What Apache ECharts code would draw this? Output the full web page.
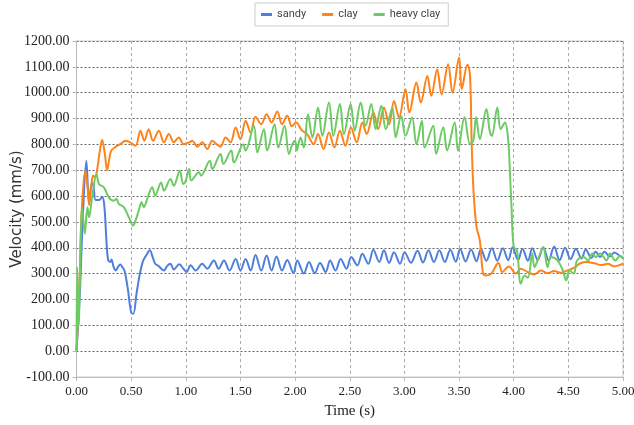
<!DOCTYPE html>
<html>
<head>
<meta charset="utf-8">
<script src="https://cdn.jsdelivr.net/npm/echarts@6/dist/echarts.min.js"></script>
<style>
html,body{margin:0;padding:0;background:#fff;}
#chart{width:634px;height:425px;}
</style>
</head>
<body>
<div id="chart"></div>
<script>
// ---- data: [time (s), velocity (mm/s)] ----
const seriesNames = ['sandy', 'clay', 'heavy clay'];
const xTicks = { min: 0, max: 5, step: 0.5 };
const yTicks = { min: -100, max: 1200, step: 100 };

const sandy = [
[0,0],[0.03,220],[0.06,540],[0.09,737],[0.115,575],[0.14,650],[0.155,640],[0.175,585],[0.21,585],[0.235,598],[0.255,560],[0.275,420],[0.29,352],[0.31,345],[0.32,355],[0.34,325],[0.36,312],[0.38,326],[0.40,335],[0.42,325],[0.44,310],[0.47,240],[0.50,150],[0.52,145],[0.55,225],[0.58,300],[0.61,350],[0.64,372],[0.67,390],[0.70,360],[0.72,338],[0.75,330],[0.80,312],[0.83,330],[0.86,338],[0.89,316],[0.94,336],[0.98,318],
[1.007,306],[1.044,332],[1.09,312],[1.15,338],[1.196,319],[1.257,351],[1.30,319],[1.349,351],[1.40,312],[1.456,357],[1.50,312],[1.547,357],[1.593,312],[1.638,372],[1.69,312],[1.739,370],[1.785,312],[1.83,366],[1.88,312],[1.928,353],[1.985,302],
[2.02,351],[2.08,300],[2.127,345],[2.18,302],[2.228,341],[2.28,306],[2.32,351],[2.37,312],[2.417,357],[2.47,319],[2.514,364],[2.57,332],[2.615,377],[2.67,338],[2.716,392],[2.77,345],[2.813,390],[2.86,341],[2.905,383],[2.96,338],[3.002,383],
[3.06,342],[3.12,388],[3.17,343],[3.22,390],[3.27,345],[3.32,390],[3.37,345],[3.42,392],[3.47,346],[3.51,395],[3.56,347],[3.61,393],[3.66,348],[3.70,395],[3.75,350],[3.80,398],[3.85,350],[3.90,398],[3.95,352],[3.99,402],[4.04,352],[4.08,396],[4.13,350],[4.17,398],[4.22,352],[4.27,402],[4.32,350],[4.37,405],[4.42,352],[4.47,400],[4.52,356],[4.57,396],[4.62,358],[4.66,393],[4.71,360],[4.75,385],[4.79,364],[4.83,385],[4.88,366],[4.92,382],[4.96,372],[5.0,360]
];

const clay = [
[0,0],[0.03,300],[0.05,560],[0.08,698],[0.10,640],[0.116,565],[0.135,640],[0.152,680],[0.17,672],[0.19,705],[0.21,765],[0.235,818],[0.26,760],[0.28,700],[0.30,745],[0.317,775],[0.35,788],[0.40,801],[0.45,814],[0.49,808],[0.54,795],[0.585,853],[0.62,814],[0.66,859],[0.70,814],[0.753,853],[0.80,808],[0.845,840],[0.89,808],[0.936,827],[0.98,801],
[1.03,808],[1.06,814],[1.105,791],[1.15,808],[1.196,782],[1.242,814],[1.28,801],[1.318,791],[1.364,827],[1.41,808],[1.456,865],[1.50,820],[1.547,891],[1.593,846],[1.638,907],[1.69,878],[1.739,917],[1.785,885],[1.837,927],[1.88,878],[1.928,911],[1.97,870],
[2.01,885],[2.06,855],[2.11,840],[2.17,801],[2.21,840],[2.26,782],[2.31,846],[2.36,788],[2.41,853],[2.46,795],[2.51,865],[2.563,808],[2.615,885],[2.655,840],[2.716,923],[2.76,859],[2.813,943],[2.86,878],[2.905,968],[2.95,904],
[3.01,1013],[3.045,923],[3.11,1039],[3.15,962],[3.21,1065],[3.246,988],[3.30,1090],[3.34,994],[3.40,1110],[3.44,1000],[3.50,1136],[3.525,1014],[3.576,1108],[3.60,1070],[3.615,815],[3.632,622],[3.66,480],[3.69,429],[3.72,300],[3.75,293],[3.795,300],[3.86,341],[3.896,306],[3.956,328],[4.02,300],
[4.064,319],[4.12,308],[4.186,297],[4.25,312],[4.308,302],[4.37,310],[4.43,303],[4.49,312],[4.55,322],[4.61,340],[4.67,345],[4.74,340],[4.80,333],[4.86,338],[4.92,328],[4.96,332],[5.0,338]
];

const heavyClay = [
[0,0],[0.006,325],[0.018,94],[0.052,557],[0.076,454],[0.10,557],[0.115,518],[0.143,595],[0.183,685],[0.205,647],[0.25,634],[0.296,595],[0.34,582],[0.365,590],[0.387,570],[0.433,557],[0.479,518],[0.518,486],[0.54,505],[0.57,544],[0.595,576],[0.615,557],[0.652,595],[0.692,634],[0.72,602],[0.774,653],[0.80,621],[0.86,666],[0.89,640],[0.945,698],[0.976,647],[1.0,660],
[1.03,705],[1.05,660],[1.12,692],[1.14,679],[1.22,737],[1.242,705],[1.318,763],[1.343,724],[1.416,776],[1.44,730],[1.526,801],[1.547,776],[1.623,872],[1.654,769],[1.715,859],[1.745,776],[1.812,878],[1.846,788],[1.904,872],[1.943,763],[1.975,800],
[2.0,814],[2.015,776],[2.05,827],[2.08,788],[2.118,917],[2.158,827],[2.21,943],[2.249,833],[2.31,962],[2.35,833],[2.41,956],[2.447,840],[2.508,956],[2.545,853],[2.6,962],[2.645,872],[2.697,956],[2.737,859],[2.789,949],[2.83,859],[2.89,943],[2.92,827],[2.97,911],
[3.01,833],[3.07,904],[3.11,801],[3.16,891],[3.185,788],[3.264,872],[3.29,763],[3.356,866],[3.39,776],[3.46,885],[3.49,776],[3.55,905],[3.60,802],[3.63,814],[3.656,905],[3.69,820],[3.75,937],[3.78,853],[3.80,833],[3.85,943],[3.88,859],[3.92,885],[3.95,814],[3.966,687],[3.98,557],[4.0,403],
[4.03,390],[4.065,261],[4.10,293],[4.13,284],[4.17,378],[4.19,325],[4.23,364],[4.27,402],[4.31,325],[4.34,364],[4.40,351],[4.45,312],[4.48,274],[4.51,312],[4.55,300],[4.58,351],[4.64,364],[4.68,351],[4.72,378],[4.75,364],[4.79,378],[4.85,351],[4.88,378],[4.93,351],[4.97,368],[5.0,360]
];

const colors = ['#4F7FDC', '#FF8319', '#6CCB63'];
const seriesData = [sandy, clay, heavyClay];

const serif = '"Liberation Serif", "Times New Roman", serif';
const chart = echarts.init(document.getElementById('chart'), null, { renderer: 'canvas' });
chart.setOption({
  animation: false,
  color: colors,
  grid: { left: 76.5, right: 11, top: 41, bottom: 48, show: true, borderColor: '#cccccc', borderWidth: 1, containLabel: false, outerBoundsMode: 'none' },
  legend: {
    data: seriesNames,
    left: 255, top: 3,
    padding: [6, 8, 6, 6],
    itemGap: 16,
    itemWidth: 11, itemHeight: 3,
    icon: 'rect',
    borderColor: '#cccccc', borderWidth: 1,
    textStyle: { fontFamily: 'Roboto, sans-serif', fontSize: 11, color: '#444' }
  },
  xAxis: {
    type: 'value', min: xTicks.min, max: xTicks.max, interval: xTicks.step,
    name: 'Time (s)', nameLocation: 'middle', nameGap: 27,
    nameTextStyle: { fontFamily: serif, fontSize: 15, color: '#222' },
    axisLine: { show: true, onZero: false, lineStyle: { color: '#bbbbbb' } },
    axisTick: { show: true, length: 4, lineStyle: { color: '#bbbbbb' } },
    axisLabel: { fontFamily: serif, fontSize: 13, color: '#222', margin: 8, formatter: v => v.toFixed(2) },
    splitLine: { show: true, lineStyle: { color: '#aaaaaa', type: [3, 3], width: 1 } }
  },
  yAxis: {
    type: 'value', min: yTicks.min, max: yTicks.max, interval: yTicks.step,
    name: 'Velocity (mm/s)', nameLocation: 'middle', nameGap: 52, nameMoveOverlap: false,
    nameTextStyle: { fontFamily: '"DejaVu Sans", sans-serif', fontSize: 15, color: '#333' },
    axisLine: { show: true, lineStyle: { color: '#bbbbbb' } },
    axisTick: { show: true, length: 4, lineStyle: { color: '#bbbbbb' } },
    axisLabel: { fontFamily: serif, fontSize: 14, color: '#222', margin: 7, formatter: v => v.toFixed(2) },
    splitLine: { show: true, lineStyle: { color: '#666666', type: [2, 2], width: 1 } }
  },
  series: seriesNames.map((n, i) => ({
    name: n, type: 'line', data: seriesData[i],
    showSymbol: false, symbol: 'none', smooth: 0.35,
    lineStyle: { width: 2, color: colors[i] },
    itemStyle: { color: colors[i] }
  }))
});
</script>
</body>
</html>
